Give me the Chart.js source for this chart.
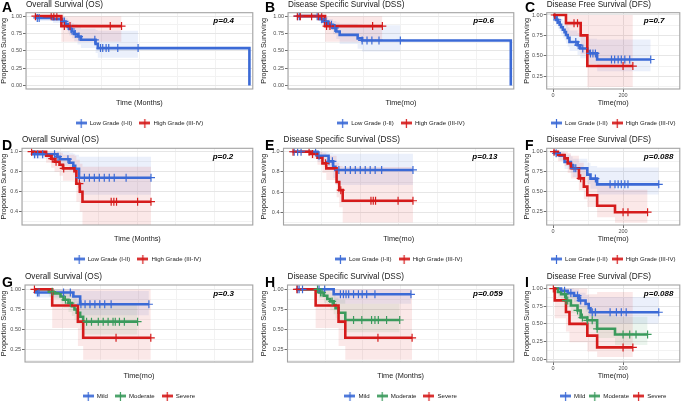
<!DOCTYPE html>
<html>
<head>
<meta charset="utf-8">
<script src="https://cdn.jsdelivr.net/npm/chart.js@4.4.1/dist/chart.umd.min.js"></script>
<style>
  html, body { margin: 0; padding: 0; background: #fff; overflow: hidden; }
  #wrap { position: relative; width: 685px; height: 402px; overflow: hidden; }
  #wrap canvas { position: absolute; }
</style>
</head>
<body>
<div id="wrap"></div>
<script>
// panel texts
const letters = ["A", "B", "C", "D", "E", "F", "G", "H", "I"];
const titles = ["Overall Survival (OS)", "Disease Specific Survival (DSS)", "Disease Free Survival (DFS)",
                "Overall Survival (OS)", "Disease Specific Survival (DSS)", "Disease Free Survival (DFS)",
                "Overall Survival (OS)", "Disease Specific Survival (DSS)", "Disease Free Survival (DFS)"];
const pValues = ["p=0.4", "p=0.6", "p=0.7", "p=0.2", "p=0.13", "p=0.088", "p=0.3", "p=0.059", "p=0.088"];
const xTitles = ["Time (Months)", "Time(mo)", "Time(mo)", "Time (Months)", "Time(mo)", "Time(mo)",
                 "Time(mo)", "Time (Months)", "Time(mo)"];
const yTitle = "Proportion Surviving";
const gradeLabels = ["Low Grade (I-II)", "High Grade (III-IV)"];
const severityLabels = ["Mild", "Moderate", "Severe"];

// axis ranges and major tick steps
const xRanges = [[-24, 579], [-24, 579], [-18, 362], [-24, 579], [-24, 579], [-18, 362], [-24, 579], [-24, 579], [-18, 362]];
const yRanges = [[-0.05, 1.05], [-0.05, 1.05], [0.094, 1.028], [0.267, 1.034], [0.275, 1.034], [0.073, 1.043], [0.101, 1.053], [0.101, 1.053], [-0.04, 1.05]];
const yMajorSteps = [0.25, 0.25, 0.25, 0.2, 0.2, 0.25, 0.25, 0.25, 0.25];
const xMajorStep = 200;

// KM steps: [time, survival, lower CI, upper CI]; censored times separately
const aLow = [[0,1,1,1],[5,0.975,0.93,1],[48,0.957,0.90,1],[72,0.924,0.86,0.99],[81,0.886,0.81,0.97],[87,0.848,0.76,0.94],[91,0.815,0.72,0.92],[98,0.78,0.68,0.90],[104,0.744,0.64,0.88],[113,0.706,0.59,0.85],[122,0.659,0.54,0.82],[161,0.60,0.47,0.80],[167,0.54,0.40,0.79],[570,0,null,null]];
const aLowCens = [6, 11, 78, 96, 107, 117, 159, 174, 180, 189, 196, 220, 274];
const aHigh = [[0,1,1,1],[70,0.857,0.63,1]];
const aHighCens = [1, 43, 50, 58, 78, 93, 200, 230];

const bLow = [[0,1,1,1],[61,0.957,0.90,1],[70,0.924,0.86,0.99],[83,0.877,0.80,0.96],[96,0.83,0.74,0.93],[105,0.78,0.67,0.91],[114,0.73,0.60,0.89],[162,0.68,0.53,0.88],[174,0.65,0.49,0.87],[571,0,null,null]];
const bLowCens = [2, 7, 54, 66, 77, 92, 101, 174, 187, 200, 219, 276];
const bHigh = [[0,1,1,1],[75,0.857,0.63,1]];
const bHighCens = [1, 9, 39, 57, 66, 79, 88, 202, 228];

const cLow = [[0,1,1,1],[5,0.97,0.92,1],[9,0.94,0.87,1],[14,0.91,0.83,0.99],[19,0.88,0.80,0.97],[23,0.85,0.76,0.95],[28,0.82,0.72,0.93],[33,0.79,0.69,0.91],[37,0.755,0.65,0.88],[42,0.72,0.61,0.85],[47,0.67,0.56,0.81],[70,0.63,0.51,0.78],[78,0.59,0.47,0.75],[98,0.56,0.43,0.73],[102,0.53,0.40,0.71],[126,0.455,0.31,0.70]];
const cLowCens = [12, 65, 72, 85, 107, 114, 121, 167, 176, 186, 195, 205, 219, 279];
const cHigh = [[0,1,1,1],[37,0.9,0.75,1],[79,0.75,0.52,1],[98,0.375,0.12,1]];
const cHighCens = [5, 60, 70, 200, 228];

const dLow = [[0,1,1,1],[4,0.975,0.93,1],[68,0.95,0.89,1],[75,0.925,0.86,1],[100,0.89,0.81,0.99],[110,0.86,0.77,0.98],[115,0.83,0.72,0.97],[125,0.74,0.57,0.95]];
const dLowCens = [9, 17, 30, 61, 70, 96, 126, 139, 152, 165, 178, 191, 204, 217, 248, 313];
const dHigh = [[0,1,1,1],[39,0.96,0.89,1],[52,0.93,0.84,1],[61,0.90,0.80,1],[74,0.87,0.76,0.99],[83,0.833,0.71,0.97],[113,0.805,0.67,0.96],[118,0.68,0.50,0.92],[127,0.60,0.40,0.88],[134,0.50,0.26,0.85]];
const dHighCens = [1, 55, 65, 85, 126, 209, 216, 223, 278, 313];

const eLow = [[0,1,1,1],[65,0.96,0.90,1],[94,0.905,0.83,0.99],[106,0.85,0.74,0.98],[112,0.82,0.67,0.98]];
const eLowCens = [4, 13, 22, 60, 69, 95, 104, 121, 138, 151, 164, 177, 190, 203, 216, 233, 315];
const eHigh = [[0,1,1,1],[47,0.977,0.93,1],[65,0.94,0.87,1],[78,0.885,0.79,0.99],[88,0.835,0.72,0.96],[115,0.70,0.55,0.89],[122,0.62,0.45,0.86],[131,0.515,0.30,0.85]];
const eHighCens = [1, 43, 52, 86, 126, 205, 211, 217, 276, 315];

const fLow = [[0,1,1,1],[5,0.98,0.94,1],[19,0.95,0.89,1],[33,0.87,0.78,0.96],[51,0.83,0.73,0.94],[56,0.79,0.68,0.91],[98,0.71,0.59,0.86],[107,0.66,0.53,0.82],[126,0.587,0.46,0.80]];
const fLowCens = [9, 60, 65, 121, 163, 177, 186, 195, 205, 214, 302];
const fHigh = [[0,1,1,1],[14,0.958,0.88,1],[33,0.916,0.82,1],[42,0.85,0.73,0.98],[51,0.79,0.66,0.95],[74,0.663,0.51,0.86],[88,0.558,0.40,0.78],[98,0.45,0.30,0.68],[126,0.317,0.17,0.58],[177,0.235,0.10,0.52]];
const fHighCens = [3, 79, 200, 214, 270];

const gMild = [[0,1,1,1],[4,0.96,0.90,1],[104,0.91,0.82,1],[122,0.815,0.68,0.98]];
const gMildCens = [9, 13, 78, 96, 124, 135, 148, 161, 174, 187, 204, 304];
const gModerate = [[0,1,1,1],[39,0.97,0.91,1],[52,0.95,0.88,1],[70,0.91,0.82,0.99],[78,0.87,0.77,0.97],[91,0.83,0.72,0.95],[100,0.79,0.67,0.92],[107,0.75,0.62,0.89],[113,0.71,0.57,0.86],[122,0.66,0.51,0.84],[130,0.60,0.44,0.82]];
const gModerateCens = [48, 83, 96, 139, 152, 170, 183, 196, 209, 215, 226, 239, 274];
const gSevere = [[0,1,1,1],[48,0.8,0.52,1],[116,0.6,0.30,1],[130,0.4,0.13,1]];
const gSevereCens = [1, 217, 309];

const hMild = [[0,1,1,1],[99,0.938,0.82,1]];
const hMildCens = [3, 7, 16, 60, 75, 117, 125, 132, 139, 152, 165, 175, 187, 209, 305];
const hModerate = [[0,1,1,1],[60,0.96,0.89,1],[73,0.92,0.83,1],[82,0.88,0.78,0.98],[90,0.85,0.74,0.96],[99,0.806,0.69,0.93],[104,0.765,0.64,0.90],[112,0.71,0.57,0.87],[130,0.62,0.47,0.82]];
const hModerateCens = [56, 64, 68, 95, 152, 174, 200, 209, 218, 240, 275];
const hSevere = [[0,1,1,1],[51,0.8,0.52,1],[112,0.6,0.30,1],[130,0.4,0.13,1]];
const hSevereCens = [1, 217, 308];

const iMild = [[0,1,1,1],[23,0.967,0.90,1],[42,0.935,0.86,1],[60,0.90,0.81,0.99],[74,0.83,0.73,0.94],[93,0.78,0.67,0.91],[102,0.72,0.60,0.88],[107,0.664,0.50,0.88]];
const iMildCens = [33, 51, 70, 79, 112, 121, 163, 181, 195, 209, 302];
const iModerate = [[0,1,1,1],[14,0.95,0.88,1],[23,0.92,0.84,1],[37,0.83,0.73,0.94],[51,0.76,0.65,0.89],[70,0.69,0.57,0.83],[79,0.59,0.47,0.75],[98,0.55,0.42,0.71],[126,0.43,0.30,0.62],[177,0.35,0.20,0.60]];
const iModerateCens = [33, 37, 42, 70, 84, 98, 112, 126, 200, 219, 237, 270];
const iSevere = [[0,1,1,1],[5,0.833,0.58,1],[37,0.667,0.39,1],[47,0.5,0.24,1],[98,0.333,0.11,0.92],[126,0.167,0.03,0.95]];
const iSevereCens = [1, 200, 228];

const panelCurves = [
    [aLow, aHigh], [bLow, bHigh], [cLow, cHigh],
    [dLow, dHigh], [eLow, eHigh], [fLow, fHigh],
    [gMild, gModerate, gSevere], [hMild, hModerate, hSevere], [iMild, iModerate, iSevere]
];
const panelCensors = [
    [aLowCens, aHighCens], [bLowCens, bHighCens], [cLowCens, cHighCens],
    [dLowCens, dHighCens], [eLowCens, eHighCens], [fLowCens, fHighCens],
    [gMildCens, gModerateCens, gSevereCens], [hMildCens, hModerateCens, hSevereCens], [iMildCens, iModerateCens, iSevereCens]
];

// colours
const BLUE = "#3B6AD6";
const RED = "#D51B1B";
const GREEN = "#3A9A5C";
const gradeColors = [BLUE, RED];
const severityColors = [BLUE, GREEN, RED];

// page layout (pixels)
const colX = [0, 260, 523];
const colW = [258, 259, 162];
const rowY = [-4, 130, 264];
const canvasH = 148;
const plotLeft = [26, 288, 546.7, 22, 283.5, 546.7, 25, 287.5, 546.7];
const plotRight = [256, 517, 683];
const plotTop = [12.7, 148.3, 285];
const plotBottom = [89, 225, 362];
const letterX = [2, 5, 2];
const letterBase = [12.3, 150, 286.5];
const pFrac = [0.826, 0.82, 0.73];
const legendPad = [7, 7, 4];

const FONT = '"Liberation Sans", Arial, sans-serif';
Chart.defaults.font.family = FONT;
Chart.defaults.color = '#4d4d4d';

const TITLE_BOX = 8.2 * 1.2 + 3.4;
const LEGEND_FONT = 6.1;

function fade(hex, a) {
    const n = parseInt(hex.slice(1), 16);
    return `rgba(${(n >> 16) & 255}, ${(n >> 8) & 255}, ${n & 255}, ${a})`;
}

function legendKey(color) {
    const c = document.createElement("canvas");
    c.width = 11;
    c.height = 9;
    const g = c.getContext("2d");
    g.strokeStyle = color;
    g.lineWidth = 2.6;
    g.beginPath(); g.moveTo(0, 4.5); g.lineTo(11, 4.5); g.stroke();
    g.lineWidth = 1.2;
    g.beginPath(); g.moveTo(5.5, 0); g.lineTo(5.5, 9); g.stroke();
    return c;
}

function survAt(steps, t) {
    let v = 1;
    steps.forEach(s => { if (s[0] <= t) v = s[1]; });
    return v;
}

function isMajor(v, step) {
    return Math.abs(v / step - Math.round(v / step)) < 1e-6;
}

// letter, p-value and panel border
const panelDecor = {
    id: "panelDecor",
    afterDraw(chart, args, opts) {
        const { ctx, chartArea: ca } = chart;
        ctx.save();
        ctx.strokeStyle = "#a3a3a3";
        ctx.lineWidth = 1.1;
        ctx.strokeRect(ca.left, ca.top, ca.right - ca.left, ca.bottom - ca.top);
        ctx.fillStyle = "#000";
        ctx.font = `bold 14px ${FONT}`;
        ctx.textBaseline = "alphabetic";
        ctx.textAlign = "left";
        ctx.fillText(opts.letter, opts.letterX, opts.letterY);
        ctx.font = `italic bold 8px ${FONT}`;
        ctx.textBaseline = "middle";
        ctx.fillText(opts.pValue, ca.left + (ca.right - ca.left) * opts.pFrac, ca.top + 8.5);
        ctx.restore();
    }
};

const wrap = document.getElementById("wrap");

function buildDatasets(i) {
    const curves = panelCurves[i];
    const cens = panelCensors[i];
    const three = curves.length === 3;
    const colors = three ? severityColors : gradeColors;
    const labels = three ? severityLabels : gradeLabels;
    const datasets = [];

    curves.forEach((steps, g) => {
        const color = colors[g];
        const lastStep = steps[steps.length - 1];
        const end = Math.max(lastStep[0], ...cens[g]);
        const ciEnd = Math.max(...cens[g]);

        const line = steps.map(s => ({ x: s[0], y: s[1] }));
        if (end > lastStep[0]) line.push({ x: end, y: lastStep[1] });

        const ciRows = steps.filter(s => s[2] !== null);
        const lastCi = ciRows[ciRows.length - 1];
        const upper = ciRows.map(s => ({ x: s[0], y: s[3] }));
        const lower = ciRows.map(s => ({ x: s[0], y: s[2] }));
        if (ciEnd > lastCi[0]) {
            upper.push({ x: ciEnd, y: lastCi[3] });
            lower.push({ x: ciEnd, y: lastCi[2] });
        }

        datasets.push({
            data: upper, stepped: "before", borderWidth: 0, pointRadius: 0,
            fill: "+1", backgroundColor: fade(color, 0.1), order: 30 - g
        });
        datasets.push({
            data: lower, stepped: "before", borderWidth: 0, pointRadius: 0,
            fill: false, order: 30 - g
        });
        datasets.push({
            label: labels[g], data: line, stepped: "before", borderColor: color,
            borderWidth: 2.6, pointRadius: 0, pointStyle: legendKey(color),
            fill: false, order: 20 - g, isMain: true
        });
        datasets.push({
            data: cens[g].map(t => ({ x: t, y: survAt(steps, t) })), showLine: false,
            pointStyle: "cross", pointRadius: 4, borderColor: color, borderWidth: 1.2,
            order: 10 - g
        });
    });
    return datasets;
}

function makePanel(i) {
    const col = i % 3;
    const row = Math.floor(i / 3);
    const canvas = document.createElement("canvas");
    canvas.width = colW[col];
    canvas.height = canvasH;
    canvas.style.left = colX[col] + "px";
    canvas.style.top = rowY[row] + "px";
    wrap.appendChild(canvas);

    // legend text centre sits 34px under the plot, x title centre 14px under it
    const lp = legendPad[col];
    const xBox = 34 - lp - LEGEND_FONT / 2;
    const legendBox = LEGEND_FONT + lp + 10;
    const yWidth = plotLeft[i] - colX[col];
    const padRight = colX[col] + colW[col] - plotRight[col];
    const padTop = plotTop[row] - rowY[row] - TITLE_BOX;
    const padBottom = canvasH - (plotBottom[row] - rowY[row]) - xBox - legendBox;
    const yStep = yMajorSteps[i];
    const yDigits = yStep === 0.2 ? 1 : 2;

    new Chart(canvas.getContext("2d"), {
        type: "line",
        data: { datasets: buildDatasets(i) },
        options: {
            responsive: false,
            animation: false,
            devicePixelRatio: 1,
            events: [],
            layout: { padding: { left: 0, right: padRight, top: padTop, bottom: padBottom } },
            scales: {
                x: {
                    type: "linear",
                    min: xRanges[i][0],
                    max: xRanges[i][1],
                    afterFit: s => { s.height = xBox; },
                    border: { display: false },
                    grid: {
                        color: c => isMajor(c.tick.value, xMajorStep) ? "#e6e6e6" : "#f2f2f2",
                        tickColor: c => isMajor(c.tick.value, xMajorStep) ? "#6e6e6e" : "rgba(0,0,0,0)",
                        tickLength: 3
                    },
                    ticks: {
                        stepSize: xMajorStep / 2,
                        includeBounds: false,
                        autoSkip: false,
                        maxRotation: 0,
                        padding: 0.5,
                        font: { size: 5.5 },
                        color: "#4d4d4d",
                        callback: v => isMajor(v, xMajorStep) ? String(v) : ""
                    },
                    title: {
                        display: true,
                        text: xTitles[i],
                        color: "#1a1a1a",
                        font: { size: 7.3 },
                        padding: { top: 0, bottom: xBox - 14 - 7.3 * 1.2 / 2 }
                    }
                },
                y: {
                    min: yRanges[i][0],
                    max: yRanges[i][1],
                    afterFit: s => { s.width = yWidth; },
                    border: { display: false },
                    grid: {
                        color: c => isMajor(c.tick.value, yStep) ? "#e6e6e6" : "#f2f2f2",
                        tickColor: c => isMajor(c.tick.value, yStep) ? "#6e6e6e" : "rgba(0,0,0,0)",
                        tickLength: 3
                    },
                    ticks: {
                        stepSize: yStep / 2,
                        includeBounds: false,
                        autoSkip: false,
                        padding: 1,
                        font: { size: 5.5 },
                        color: "#4d4d4d",
                        callback: v => isMajor(v, yStep) ? v.toFixed(yDigits) : ""
                    },
                    title: {
                        display: true,
                        text: yTitle,
                        color: "#1a1a1a",
                        font: { size: 7.3 },
                        padding: { top: 0, bottom: 0 }
                    }
                }
            },
            plugins: {
                title: {
                    display: true,
                    text: titles[i],
                    align: "start",
                    fullSize: false,
                    color: "#1a1a1a",
                    font: { size: 8.2, weight: "normal" },
                    padding: { top: 0, bottom: 3.4 }
                },
                legend: {
                    display: true,
                    position: "bottom",
                    align: "center",
                    fullSize: false,
                    labels: {
                        usePointStyle: true,
                        pointStyleWidth: 11,
                        boxHeight: LEGEND_FONT,
                        padding: lp,
                        color: "#1a1a1a",
                        font: { size: LEGEND_FONT },
                        filter: (item, data) => data.datasets[item.datasetIndex].isMain === true,
                        sort: (a, b) => a.datasetIndex - b.datasetIndex
                    }
                },
                tooltip: { enabled: false },
                panelDecor: {
                    letter: letters[i],
                    pValue: pValues[i],
                    letterX: letterX[col],
                    letterY: letterBase[row] - rowY[row],
                    pFrac: pFrac[col]
                }
            }
        },
        plugins: [panelDecor]
    });
}

for (let i = 0; i < 9; i++) {
    makePanel(i);
}
</script>
</body>
</html>
